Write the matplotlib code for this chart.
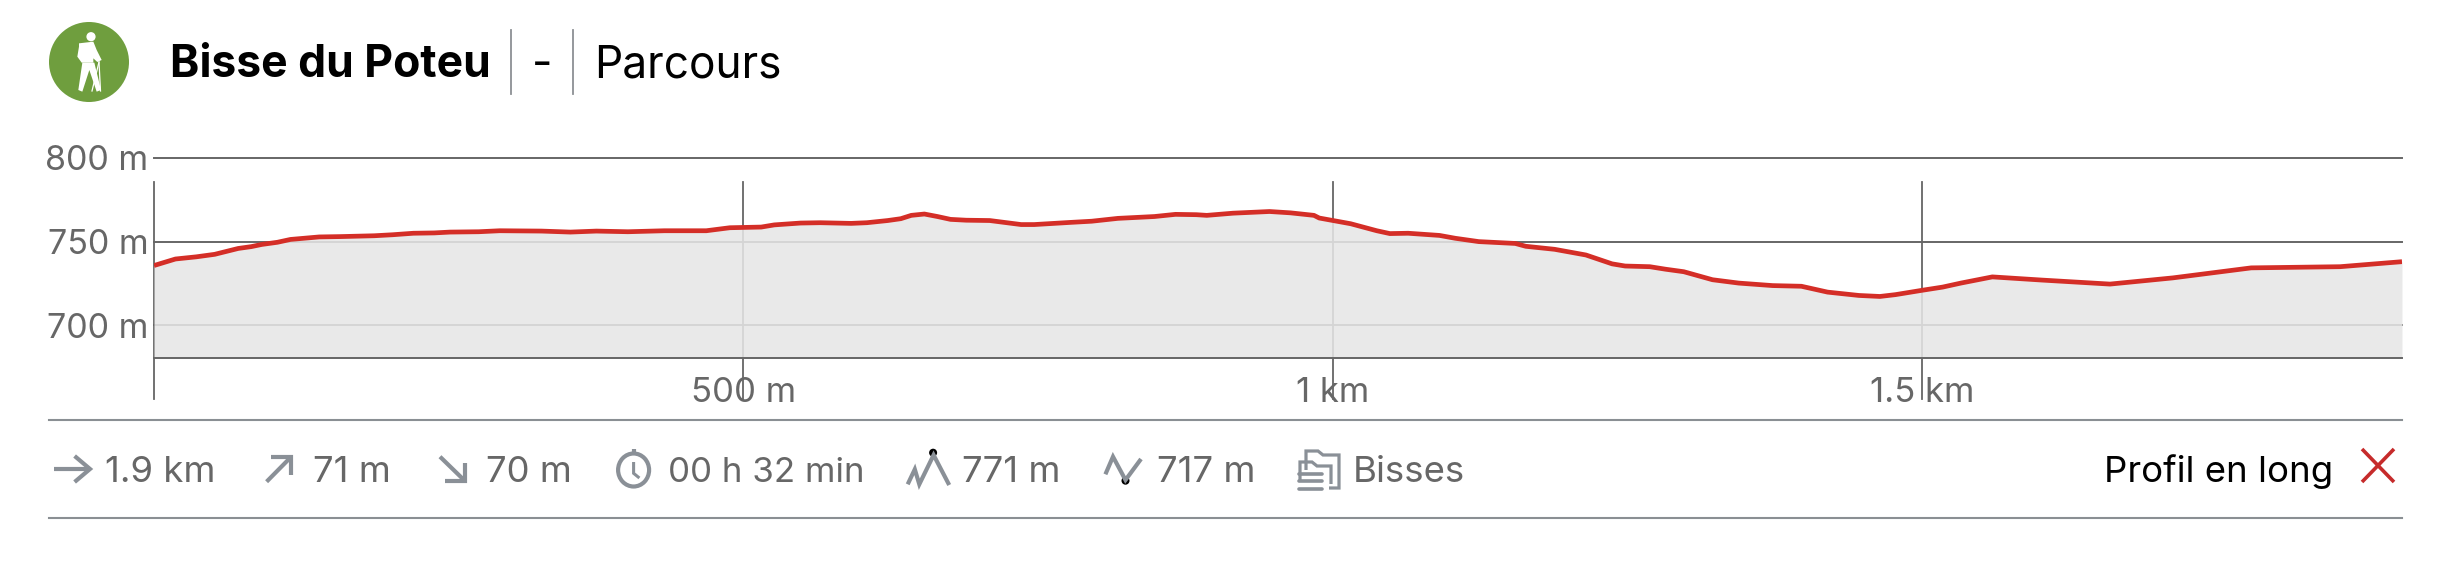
import matplotlib
matplotlib.use("Agg")
import matplotlib.pyplot as plt
from matplotlib.patches import Circle, Ellipse, Polygon

plt.rcParams['font.family'] = ['Inter', 'DejaVu Sans']

# Data
distance_m = [0, 18.2, 35.9, 51.5, 71.4, 82.5, 91.4, 104.7, 115.8, 140.2, 157.9, 186.8, 202.3, 220,
              237.8, 251.1, 275.5, 293.3, 328.7, 353.2, 375.3, 402, 433, 468.5, 488.5, 515.1, 526.2,
              548.4, 565.2, 591.4, 604.7, 622.4, 633.5, 642.4, 653.5, 664.6, 675.7, 689, 709, 735.6,
              746.7, 777.7, 795.5, 817.7, 848.7, 866.5, 884.2, 893.1, 915.3, 946.3, 964.1, 984,
              988.5, 1015.1, 1037.3, 1048.4, 1063.9, 1090.5, 1103.8, 1123.8, 1154.8, 1163.7, 1188.1,
              1214.7, 1236.9, 1248, 1268.9, 1282.2, 1297.7, 1322.1, 1344.3, 1373.1, 1397.5, 1419.7,
              1446.3, 1464.1, 1477.4, 1500, 1517.3, 1532.8, 1559.5, 1601.6, 1659.3, 1712.5, 1779.1,
              1854.5, 1907]
altitude_m = [735.7, 739.6, 740.9, 742.4, 745.9, 747.0, 748.3, 749.6, 751.3, 752.8, 753.0, 753.5, 754.1, 755,
              755.2, 755.7, 755.9, 756.5, 756.3, 755.7, 756.3, 755.9, 756.5, 756.5, 758.3, 758.7, 760,
              761.1, 761.3, 760.9, 761.3, 762.6, 763.7, 765.7, 766.5, 765, 763.3, 762.8, 762.6, 760.2,
              760.2, 761.5, 762.2, 763.9, 765, 766.3, 766.1, 765.7, 767, 768, 767.2, 765.7,
              764.1, 760.7, 756.5, 754.8, 755, 753.7, 752, 750, 748.9, 747.2, 745.4,
              742, 736.7, 735.4, 735, 733.5, 732, 727.2, 725.2, 723.7, 723.3, 719.8,
              717.8, 717.2, 718.3, 720.9, 722.8, 725.2, 728.9, 727, 724.6, 728.3, 734.3,
              735, 738]
y_ticks = [700, 750, 800]
y_labels = ['700 m', '750 m', '800 m']
x_ticks = [0, 500, 1000, 1500]
x_tick_labels = ['', '500 m', '1 km', '1.5 km']

title_main = 'Bisse du Poteu'
title_sep = '-'
title_sub = 'Parcours'
stats = [('1.9 km', 105, 26.3), ('71 m', 313, 26.3), ('70 m', 486, 26.3), ('00 h 32 min', 668, 25.1),
         ('771 m', 962, 26.3), ('717 m', 1157, 26.3), ('Bisses', 1353, 26.3)]
profile_label = 'Profil en long'

W, H = 2454, 570
GRAY_TXT = '#676767'
GRID = '#666666'
ICON = '#8a9097'
RED = '#d42e27'

fig = plt.figure(figsize=(W / 100, H / 100), dpi=100, facecolor='white')

# Chart axes
L, R, T, B = 154, 2402, 158, 358
ax = fig.add_axes([L / W, 1 - B / H, (R - L) / W, (B - T) / H])
ax.set_xlim(0, 1907)
ax.set_ylim(680.4, 800)
for s in ax.spines.values():
    s.set_visible(False)
ax.patch.set_alpha(0)
ax.set_yticks(y_ticks, y_labels)
ax.set_xticks(x_ticks, x_tick_labels)
ax.tick_params(axis='y', length=0, pad=4, labelsize=24.5, labelcolor=GRAY_TXT)
ax.tick_params(axis='x', length=0, pad=14, labelsize=25, labelcolor=GRAY_TXT)
for v in y_ticks:
    ax.axhline(v, color=GRID, lw=1.4, zorder=1, clip_on=False)
for v in x_ticks:
    ax.plot([v, v], [800 - (182 - T) * 119.6 / 200, 680.4 - (399 - B) * 119.6 / 200],
            color=GRID, lw=1.3, zorder=1, clip_on=False)
ax.fill_between(distance_m, altitude_m, 680.4, color='#e6e6e6', alpha=0.865, lw=0, zorder=2)
ax.axhline(680.4, color=GRID, lw=1.4, zorder=3, clip_on=False)
ax.plot(distance_m, altitude_m, color=RED, lw=3.4, zorder=4, solid_capstyle='butt')

# Overlay in pixel coordinates for header, footer and icons
ov = fig.add_axes([0, 0, 1, 1], zorder=5)
ov.set_xlim(0, W)
ov.set_ylim(H, 0)
ov.axis('off')
ov.patch.set_alpha(0)

# Header
def px3(points):
    return [[a / 3, b / 3] for a, b in points]

ov.add_patch(Ellipse((89, 62), 80, 80, color='#6f9e3e', lw=0))
ov.add_patch(Circle((91, 36.7), 4.6, color='white', lw=0))
ov.add_patch(Polygon(px3([(237, 130), (280, 125), (290, 150), (305, 180), (292, 186), (280, 175),
                          (280, 188), (245, 188), (232, 170), (237, 140)]), color='white', lw=0))
ov.add_patch(Polygon(px3([(247, 188), (283, 188), (303, 270), (290, 275), (268, 210),
                          (247, 275), (235, 270)]), color='white', lw=0))
ov.plot([99, 92], [62, 91], color='white', lw=0.9)
ov.plot([99, 100.5], [62, 91], color='white', lw=0.9)

ov.text(170, 77, title_main, fontsize=32, fontweight='bold', color='black', va='baseline', ha='left')
ov.plot([511, 511], [30, 94], color='#8c9094', lw=1.3)
ov.plot([573, 573], [30, 94], color='#8c9094', lw=1.3)
ov.text(542, 77, title_sep, fontsize=32, color='black', va='baseline', ha='center')
ov.text(594.5, 77, title_sub, fontsize=31.8, color='black', va='baseline', ha='left')

# Rules
for yy in (420, 518):
    ov.plot([49, 2402], [yy, yy], color='#8a8f93', lw=1.5)

# Footer text
for txt, xx, fs in stats:
    ov.text(xx, 482, txt, fontsize=fs, color=GRAY_TXT, va='baseline', ha='left')
ov.text(2104.5, 482, profile_label, fontsize=26.3, color='black', va='baseline', ha='left')

# Footer icons
lw_i = 3.0
def pl(xs, ys, col=ICON, lw=lw_i):
    ov.plot(xs, ys, color=col, lw=lw, solid_capstyle='butt', solid_joinstyle='miter')

pl([54, 90], [469, 469])
pl([74.6, 90, 74.6], [456, 469, 482])
pl([266.6, 291], [481.7, 457])
pl([271, 291, 291], [457, 457, 475])
pl([440, 465], [456.7, 481])
pl([445, 465, 465], [481, 481, 463])
ov.add_patch(Ellipse((633.6, 470), 31, 33, fill=False, ec=ICON, lw=lw_i))
pl([633.6, 633.6], [449, 454])
pl([633.6, 633.6, 639.4], [462, 473.3, 478], lw=2.2)
pl([907.7, 914.8, 919.3, 933.6, 949.2], [484.3, 469.3, 484.3, 455, 485])
ov.add_patch(Ellipse((933.1, 452.7), 8, 8, color='black', lw=0))
pl([1105.4, 1113, 1125.5, 1141], [474.3, 456.7, 480, 459])
ov.add_patch(Ellipse((1125.5, 480.7), 8, 8, color='black', lw=0))
# folders
pl([1306, 1306, 1318, 1323, 1339, 1339, 1329], [470, 451, 451, 455, 455, 488, 488], lw=2.3)
pl([1300, 1300, 1312, 1317, 1331, 1331], [482, 462, 462, 466, 466, 484], lw=2.3)
for yy in (474, 481, 489):
    ov.plot([1299, 1322], [yy, yy], color=ICON, lw=2.6, solid_capstyle='round')
# close cross
pl([2362, 2394], [449, 482], col='#c62b2b', lw=2.6)
pl([2362, 2394], [482, 449], col='#c62b2b', lw=2.6)

fig.savefig('out.png', dpi=100)
